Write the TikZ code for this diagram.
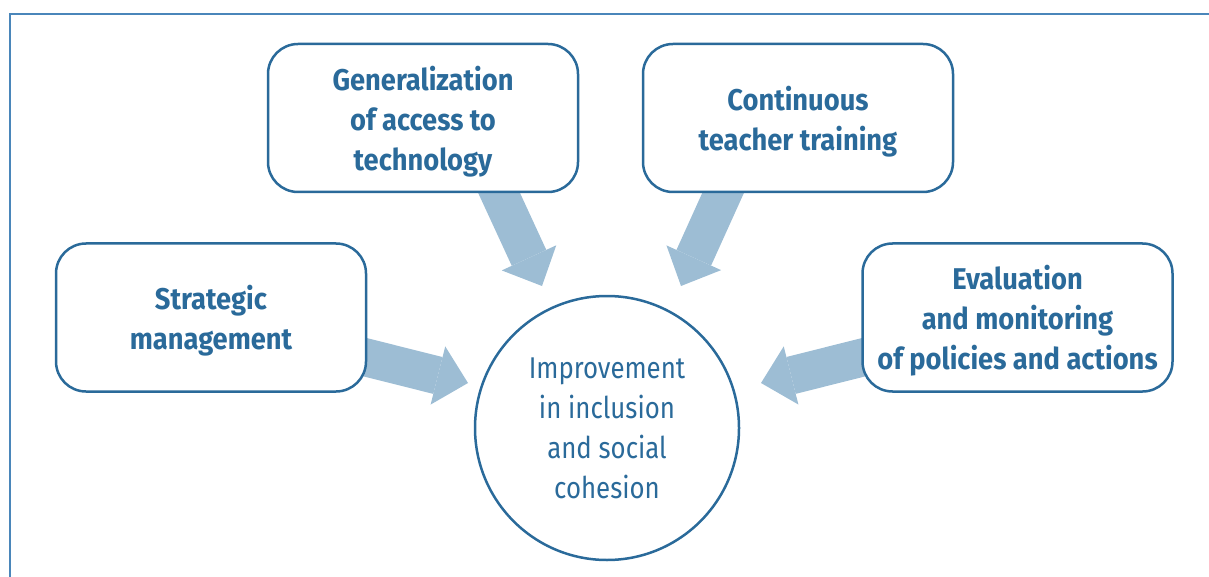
\documentclass[tikz,border=0pt]{standalone}
\usepackage{fontspec}
\setmainfont{Fira Sans}[FakeStretch=0.86]
\newfontfamily\topicfont{Fira Sans}[FakeStretch=0.91]
\usetikzlibrary{arrows.meta,calc,backgrounds}

\definecolor{boxblue}{HTML}{2A6A9A}
\definecolor{flowblue}{HTML}{9DBDD4}
\definecolor{frameblue}{HTML}{4A86BA}

\begin{document}
\begin{tikzpicture}[x=1pt,y=-1pt,
  topic/.style={draw=boxblue, line width=2.5pt, fill=white, rounded corners=30pt, minimum width=310pt, minimum height=148pt, align=center, text=boxblue, text depth=0pt, font=\topicfont\fontsize{30}{40}\selectfont\bfseries},
  goal/.style={circle, draw=boxblue, line width=2.5pt, fill=white, minimum size=264pt, inner sep=0pt, align=center, text=boxblue, text depth=0pt, font=\fontsize{30}{40}\selectfont},
  flow/.style={draw=flowblue, line width=38pt, -{Triangle[width=60pt,length=31pt,line width=0pt]}}]
\useasboundingbox (0,0) rectangle (1209,577);
\draw[frameblue, line width=1.3pt] (10,577) -- (10,14) -- (1209,14);
% the four fields of action and the common goal
\node[topic] (access) at (423,118) {Generalization\\of access to\\technology};
\node[topic] (training) at (798,118) {Continuous\\teacher training};
\node[topic] (strategy) at (211,317.5) {Strategic\\management};
\node[topic] (evaluation) at (1017.5,317.5) {Evaluation\\and monitoring\\of policies and actions};
\node[goal] (goal) at (607,428) {Improvement\\in inclusion\\and social\\cohesion};
\coordinate (tipA) at (542,286); \coordinate (tipT) at (681,286);
\coordinate (tipS) at (468,383); \coordinate (tipE) at (761,383);
% block arrows go behind the boxes
\begin{scope}[on background layer]
\draw[flow] ($(access.south)+(67,-20)$) -- (tipA);
\draw[flow] ($(training.south)+(-66,-20)$) -- (tipT);
\draw[flow] ($(strategy.east)+(-19,35.5)$) -- (tipS);
\draw[flow] ($(evaluation.west)+(19,35.5)$) -- (tipE);
\end{scope}
\end{tikzpicture}
\end{document}
